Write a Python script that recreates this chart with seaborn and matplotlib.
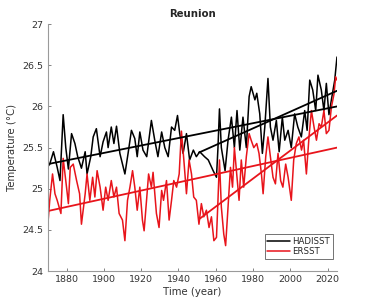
import pandas as pd
import matplotlib.pyplot as plt
import numpy as np
import seaborn as sns

# HADISST smoothed SST
had_years = [1870, 1871, 1873, 1875, 1876.5, 1878.2, 1879.6, 1881, 1882.7, 1884.5,
             1886, 1888, 1890, 1891, 1893, 1894.3, 1896, 1898, 1899.6, 1901.4,
             1902.3, 1904, 1905.4, 1906.8, 1908.6, 1911.3, 1913, 1914.8, 1916.6, 1917.9,
             1919.3, 1921, 1923, 1925.5, 1927.3, 1929, 1931, 1932.7, 1934.5, 1936.3,
             1938, 1939.5, 1940.7, 1942.5, 1944.3, 1946, 1948, 1949.6, 1951.4, 1954,
             1956, 1958.6, 1960.4, 1961.2, 1962, 1963, 1965, 1966.6, 1968.4, 1970,
             1971.4, 1972.9, 1974.6, 1976.4, 1977.9, 1979, 1981, 1982, 1983.6, 1985,
             1986.3, 1988, 1989.3, 1990.7, 1992.5, 1994, 1995.7, 1997, 1998.8, 2000.5,
             2002.3, 2004, 2005.9, 2007.7, 2009, 2010.4, 2012, 2013.6, 2014.8, 2016.6,
             2018, 2019.3, 2020.7, 2022, 2023.8, 2025]
had_temp = [25.27, 25.30, 25.45, 25.26, 25.10, 25.90, 25.50, 25.24, 25.67, 25.55,
            25.39, 25.25, 25.45, 25.18, 25.39, 25.63, 25.73, 25.39, 25.57, 25.69,
            25.50, 25.75, 25.55, 25.76, 25.43, 25.18, 25.43, 25.71, 25.61, 25.39,
            25.69, 25.47, 25.39, 25.83, 25.59, 25.39, 25.69, 25.50, 25.39, 25.75,
            25.71, 25.89, 25.67, 25.43, 25.67, 25.35, 25.47, 25.39, 25.45, 25.39,
            25.35, 25.22, 25.14, 25.50, 25.97, 25.50, 25.22, 25.59, 25.87, 25.50,
            25.95, 25.47, 25.87, 25.50, 26.12, 26.24, 26.08, 26.16, 25.91, 25.43,
            25.75, 26.34, 25.75, 25.59, 25.83, 25.45, 25.87, 25.59, 25.71, 25.50,
            25.91, 25.75, 25.63, 25.95, 25.71, 26.32, 26.20, 25.95, 26.38, 26.20,
            25.95, 26.28, 25.90, 26.08, 26.32, 26.60]

# ERSST smoothed SST
ers_years = [1870, 1871, 1872.5, 1873.8, 1875, 1876, 1877, 1878.2, 1880, 1881,
             1882, 1883.6, 1885.4, 1887, 1888, 1890, 1891, 1892.5, 1894, 1895.2,
             1896.4, 1898, 1899.6, 1901, 1902.3, 1904, 1905.4, 1906.8, 1908.2, 1910,
             1911.3, 1912.7, 1914, 1915.4, 1916.6, 1917.9, 1919.3, 1920.7, 1921.6, 1922.9,
             1924, 1925.5, 1926.4, 1928.2, 1929.6, 1931, 1932, 1933.6, 1935, 1936.3,
             1937.5, 1939, 1940.4, 1941.6, 1942.9, 1944.3, 1945.7, 1947, 1948.2, 1949.6,
             1951, 1952.3, 1953.6, 1955, 1956.4, 1957.7, 1959, 1960.4, 1961.2, 1962,
             1963, 1964.3, 1965.3, 1966.6, 1967.9, 1969, 1970, 1971.4, 1972.5, 1973.7,
             1975, 1976.4, 1977.9, 1979, 1980.4, 1982, 1983.2, 1984.5, 1985.4, 1986.8,
             1988, 1989.3, 1990.7, 1992, 1993.4, 1994.8, 1996, 1997.5, 1998.8, 2000.5,
             2001.8, 2003.2, 2004.6, 2006, 2007.1, 2008.6, 2010, 2011.3, 2012.7, 2014,
             2015.4, 2016.6, 2018, 2019.3, 2020.7, 2022, 2023.4, 2024.3, 2025]
ers_temp = [24.57, 24.86, 25.18, 24.94, 24.86, 24.78, 24.70, 25.37, 25.02, 24.82,
            25.26, 25.30, 25.10, 24.94, 24.57, 24.94, 25.18, 24.86, 25.14, 24.90,
            25.22, 25.02, 24.74, 25.02, 24.86, 25.10, 24.90, 25.02, 24.70, 24.62,
            24.37, 24.86, 25.02, 25.22, 25.02, 24.74, 25.02, 24.62, 24.49, 24.86,
            25.18, 25.02, 25.20, 24.70, 24.53, 24.98, 24.86, 25.10, 24.62, 24.86,
            25.10, 25.02, 25.18, 25.70, 25.35, 24.94, 25.35, 25.18, 24.90, 24.86,
            24.57, 24.82, 24.66, 24.74, 24.53, 24.66, 24.37, 24.41, 24.86, 25.35,
            24.78, 24.45, 24.31, 24.78, 25.26, 25.02, 25.50, 25.14, 24.86, 25.35,
            25.02, 25.39, 25.67, 25.59, 25.50, 25.55, 25.43, 25.18, 24.94, 25.39,
            25.63, 25.39, 25.14, 25.06, 25.43, 25.10, 25.02, 25.30, 25.14, 24.86,
            25.35, 25.55, 25.63, 25.47, 25.59, 25.18, 25.63, 25.95, 25.75, 25.59,
            25.79, 25.75, 25.95, 25.67, 25.71, 25.99, 26.15, 26.36, 26.32]

# linear trends (endpoints)
had_trend_years = [1870, 2025]
had_trend_temp = [25.30, 26.00]
had_recent_years = [1951, 2025]
had_recent_temp = [25.44, 26.19]
ers_trend_years = [1870, 2025]
ers_trend_temp = [24.73, 25.50]
ers_recent_years = [1951, 2025]
ers_recent_temp = [24.63, 25.89]

BLACK = '#000000'
RED = '#e8141b'

df = pd.concat([
    pd.DataFrame({'year': had_years, 'temp': had_temp, 'source': 'HADISST'}),
    pd.DataFrame({'year': ers_years, 'temp': ers_temp, 'source': 'ERSST'}),
])

sns.set_theme(style='white')
plt.rcParams['font.family'] = ['DejaVu Sans']

fig = plt.figure(figsize=(3.74, 3.05), dpi=100)
ax = fig.add_axes([0.128, 0.111, 0.773, 0.810])

sns.lineplot(data=df, x='year', y='temp', hue='source', palette={'HADISST': BLACK, 'ERSST': RED},
             estimator=None, sort=False, linewidth=1.1, ax=ax)

# trend lines
for yrs, tmp, c in [(had_trend_years, had_trend_temp, BLACK),
                    (had_recent_years, had_recent_temp, BLACK),
                    (ers_trend_years, ers_trend_temp, RED),
                    (ers_recent_years, ers_recent_temp, RED)]:
    ax.plot(yrs, tmp, color=c, linewidth=1.3)

ax.set_xlim(1870, 2025)
ax.set_ylim(24, 27)
ax.set_xticks(np.arange(1880, 2021, 20))
ax.set_yticks([24, 24.5, 25, 25.5, 26, 26.5, 27])
ax.set_yticklabels(['24', '24.5', '25', '25.5', '26', '26.5', '27'])

for side in ['top', 'right']:
    ax.spines[side].set_visible(False)
for side in ['left', 'bottom']:
    ax.spines[side].set_color('#9a9a9a')
    ax.spines[side].set_linewidth(0.8)
ax.tick_params(direction='in', length=2.5, width=0.6, color='#707070',
               labelsize=6.8, labelcolor='#333333', pad=3)
ax.tick_params(axis='both', which='both', left=True, bottom=True)

ax.set_xlabel('Time (year)', fontsize=7.3, color='#333333', labelpad=2)
ax.set_ylabel('Temperature (°C)', fontsize=7.3, color='#333333', labelpad=4)
ax.set_title('Reunion', fontsize=7.3, fontweight='bold', pad=5)

leg = ax.legend(loc='lower right', bbox_to_anchor=(0.985, 0.05), fontsize=6.2, frameon=True,
                fancybox=False, handlelength=2.6, borderpad=0.3, labelspacing=0.15,
                handletextpad=0.3, borderaxespad=0)
leg.get_frame().set_edgecolor('#333333')
leg.get_frame().set_linewidth(0.6)
for h in leg.get_lines():
    h.set_linewidth(1.1)

fig.savefig('out.png', dpi=100)
